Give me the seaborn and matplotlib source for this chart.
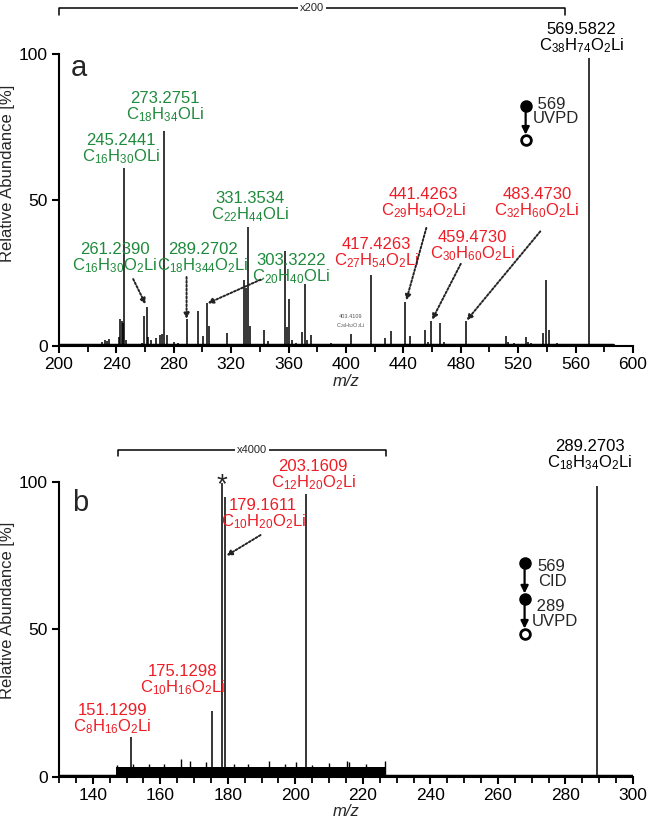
import numpy as np
import pandas as pd
import matplotlib
matplotlib.use('Agg')
import matplotlib.pyplot as plt
import seaborn as sns

# Panel a: MS3 UVPD of m/z 569 (peak list)
mz_a = [206.5, 214.6, 230.3, 232.0, 233.6, 234.8, 241.5, 242.5, 243.6, 244.4,
        245.2, 247.0, 257.6, 259.2, 261.2, 262.3, 264.0, 267.5, 270.7, 271.5,
        273.3, 275.0, 280.0, 283.0, 289.3, 297.2, 300.6, 303.3, 304.8, 316.9,
        329.1, 330.0, 331.4, 333.1, 343.1, 345.4, 357.3, 359.1, 360.5, 362.2,
        365.0, 369.5, 371.3, 372.6, 375.4, 389.5, 400.5, 403.4, 417.4, 427.0,
        431.2, 441.4, 444.4, 455.4, 457.0, 459.5, 465.2, 468.0, 483.5, 511.4,
        513.0, 517.0, 525.2, 526.5, 529.0, 537.5, 539.5, 541.5, 547.0, 569.6]
int_a = [0.8, 0.6, 1.4, 2.0, 1.7, 2.5, 3.0, 9.2, 8.5, 7.9,
         61.0, 2.0, 1.0, 10.1, 13.3, 3.0, 2.0, 2.8, 3.9, 4.0,
         73.7, 3.6, 1.5, 1.0, 9.2, 12.1, 3.3, 14.6, 6.7, 4.5,
         22.5, 20.0, 40.8, 6.7, 5.6, 1.7, 32.4, 6.5, 16.1, 2.0,
         1.0, 4.8, 21.3, 2.0, 3.7, 1.2, 0.6, 4.0, 24.2, 2.8,
         5.1, 14.9, 3.4, 5.6, 1.5, 8.7, 7.9, 1.5, 8.4, 3.4,
         1.5, 1.0, 3.0, 1.5, 1.0, 4.5, 22.7, 5.6, 1.0, 98.4]
baseline_a = [200, 586]

# Panel b: MS4 (569 CID -> 289 UVPD)
mz_b = [151.3, 175.3, 178.2, 179.2, 203.2, 271.2, 289.3]
int_b = [13.7, 22.4, 99.5, 95.0, 96.0, 0.8, 98.6]
noise_mz_b = [147.1, 152.0, 156.6, 161.0, 166.1, 168.9, 173.4, 181.8, 186.0,
              192.2, 197.0, 200.1, 205.0, 210.0, 215.2, 216.0, 221.0, 226.5]
noise_int_b = [4.2, 4.5, 4.5, 4.5, 6.0, 5.5, 5.0, 4.5, 4.4,
               5.5, 4.3, 5.0, 4.2, 4.8, 5.5, 5.0, 4.3, 5.5]
noise_span_b = [147.0, 227.0]
noise_level_b = 3.5
baseline_b = [130, 300]

GREEN = '#1f8a3b'
RED = '#ee1c25'

# labels: (mass, formula, colour)
labels_a = [
    ('569.5822', r'C$_{38}$H$_{74}$O$_2$Li', 'black'),
    ('273.2751', r'C$_{18}$H$_{34}$OLi', GREEN),
    ('245.2441', r'C$_{16}$H$_{30}$OLi', GREEN),
    ('331.3534', r'C$_{22}$H$_{44}$OLi', GREEN),
    ('261.2390', r'C$_{16}$H$_{30}$O$_2$Li', GREEN),
    ('289.2702', r'C$_{18}$H$_{344}$O$_2$Li', GREEN),
    ('303.3222', r'C$_{20}$H$_{40}$OLi', GREEN),
    ('417.4263', r'C$_{27}$H$_{54}$O$_2$Li', RED),
    ('441.4263', r'C$_{29}$H$_{54}$O$_2$Li', RED),
    ('483.4730', r'C$_{32}$H$_{60}$O$_2$Li', RED),
    ('459.4730', r'C$_{30}$H$_{60}$O$_2$Li', RED),
]
pos_a = [(564, 107.7, 102.6), (274, 84.1, 79.1), (243.3, 69.7, 64.9),
         (333.3, 49.9, 44.9), (239.0, 32.4, 27.2), (300.5, 32.4, 27.2),
         (362, 28.9, 23.6), (421.4, 34.4, 28.9), (453.7, 51.7, 46.0),
         (533, 51.7, 46.0), (488, 36.6, 31.3)]
arrows_a = [((251.7, 22.9), (260.3, 14.3)), ((288.9, 23.6), (288.9, 9.3)),
            ((340.5, 22.7), (303.6, 14.6)), ((456, 40.4), (442.0, 15.6)),
            ((480, 28.1), (460.0, 9.0)), ((535.4, 39.2), (484.2, 8.8))]

labels_b = [
    ('289.2703', r'C$_{18}$H$_{34}$O$_2$Li', 'black'),
    ('203.1609', r'C$_{12}$H$_{20}$O$_2$Li', RED),
    ('179.1611', r'C$_{10}$H$_{20}$O$_2$Li', RED),
    ('175.1298', r'C$_{10}$H$_{16}$O$_2$Li', RED),
    ('151.1299', r'C$_{8}$H$_{16}$O$_2$Li', RED),
]
pos_b = [(287.2, 112, 105.8), (205.3, 105.2, 99.3), (190.5, 91.9, 86.2),
         (166.5, 36, 29.7), (145.9, 22.4, 16.5)]
arrows_b = [((189.7, 82), (179.6, 75.0))]

sns.set_theme(style='ticks')
plt.rcParams['font.family'] = ['Liberation Sans', 'DejaVu Sans']
plt.rcParams['mathtext.fontset'] = 'custom'
plt.rcParams['mathtext.rm'] = 'Liberation Sans'
plt.rcParams['mathtext.it'] = 'Liberation Sans:italic'
plt.rcParams['mathtext.bf'] = 'Liberation Sans:bold'

fig = plt.figure(figsize=(6.49, 8.27), dpi=100)
ax_a = fig.add_axes([0.0909, 0.5816, 0.8844, 0.4172])
ax_b = fig.add_axes([0.0909, 0.0605, 0.8844, 0.4031])


def style_axes(ax, xlim, ytop, major, minor):
    ax.set_xlim(*xlim)
    ax.set_ylim(0, ytop)
    sns.despine(ax=ax)
    ax.spines['left'].set_bounds(0, 100)
    for s in ['left', 'bottom']:
        ax.spines[s].set_linewidth(1.5)
        ax.spines[s].set_color('black')
    ax.set_yticks([0, 50, 100])
    ax.set_xticks(major)
    ax.set_xticks(minor, minor=True)
    ax.tick_params(axis='both', which='major', direction='out', length=5,
                   width=1.5, labelsize=12.5, color='black', labelcolor='black', pad=3)
    ax.tick_params(axis='x', which='minor', direction='out', length=4,
                   width=1.3, color='black')
    ax.set_ylabel('Relative Abundance [%]', fontsize=12, labelpad=3)
    ax.set_xlabel('m/z', fontsize=12, style='italic', labelpad=1)
    ax.grid(False)


def put_labels(ax, labels, pos):
    # mass on the first line, formula on the second, as one text block
    for (mass, formula, col), (x, y1, y2) in zip(labels, pos):
        ax.text(x, (y1 + y2) / 2, mass + '\n' + formula, color=col, fontsize=12,
                ha='center', va='center', multialignment='center', linespacing=0.95)


def put_arrows(ax, arrows):
    for start, end in arrows:
        ax.annotate('', xy=end, xytext=start,
                    arrowprops=dict(arrowstyle='-|>', color='#222222', lw=1.4,
                                    linestyle=(0, (1, 1)), mutation_scale=8,
                                    shrinkA=0, shrinkB=0))


def bracket(ax, x0, x1, y, tick, text):
    ax.plot([x0, x0, x1, x1], [y - tick, y, y, y - tick], color='black', lw=1.1,
            clip_on=False)
    ax.text((x0 + x1) / 2, y, text, fontsize=8, ha='center', va='center',
            bbox=dict(facecolor='white', edgecolor='none', pad=1.5))


def icon(ax, x, ys, kinds, r):
    for y0, y1 in zip(ys[:-1], ys[1:]):
        ax.annotate('', xy=(x, y1 + r), xytext=(x, y0),
                    arrowprops=dict(arrowstyle='-|>', color='black', lw=1.6,
                                    mutation_scale=11, shrinkA=0, shrinkB=0))
    for y, k in zip(ys, kinds):
        if k == 'filled':
            ax.plot(x, y, 'o', ms=8, color='black', zorder=5)
        else:
            ax.plot(x, y, 'o', ms=7, mfc='white', mec='black', mew=2, zorder=5)


# ---- panel a ----
style_axes(ax_a, (200, 600), 118, np.arange(200, 601, 40), np.arange(220, 600, 40))
sns.lineplot(x=baseline_a, y=[0.4, 0.4], ax=ax_a, color='black', lw=2.5)
ax_a.vlines(mz_a, 0, int_a, color='black', lw=1.1)
put_labels(ax_a, labels_a, pos_a)
ax_a.text(403.5, 8.2, '403.4109\n' + r'C$_{26}$H$_{52}$O$_2$Li', fontsize=4,
          color='#555555', ha='center', va='center', multialignment='center')
put_arrows(ax_a, arrows_a)
bracket(ax_a, 200, 552.7, 115.5, 2.3, 'x200')
ax_a.text(213.9, 95.2, 'a', fontsize=21, ha='center', va='center')
icon(ax_a, 525.2, [82.0, 70.4], ['filled', 'open'], 1.9)
ax_a.text(530.0, 80.2, ' 569\nUVPD', fontsize=12, ha='left', va='center', linespacing=0.95)

# ---- panel b ----
style_axes(ax_b, (130, 300), 113, np.arange(140, 301, 20), np.arange(130, 300, 5))
sns.lineplot(x=baseline_b, y=[0.4, 0.4], ax=ax_b, color='black', lw=2.5)
ax_b.fill_between(noise_span_b, 0, noise_level_b, color='black', lw=0)
ax_b.vlines(noise_mz_b, 0, noise_int_b, color='black', lw=1.0)
ax_b.vlines(mz_b, 0, int_b, color='black', lw=1.1)
put_labels(ax_b, labels_b, pos_b)
put_arrows(ax_b, arrows_b)
bracket(ax_b, 147.4, 226.9, 110.8, 2.0, 'x4000')
ax_b.text(178.3, 99.0, '*', fontsize=20, ha='center', va='center')
ax_b.text(136.2, 92.9, 'b', fontsize=21, ha='center', va='center')
icon(ax_b, 267.9, [72.5, 60.3, 48.4], ['filled', 'filled', 'open'], 1.9)
ax_b.text(271.8, 68.8, '569\nCID', fontsize=12, ha='left', va='center', linespacing=0.95)
ax_b.text(270.0, 55.2, ' 289\nUVPD', fontsize=12, ha='left', va='center', linespacing=0.95)

fig.savefig('out.png', dpi=100)
